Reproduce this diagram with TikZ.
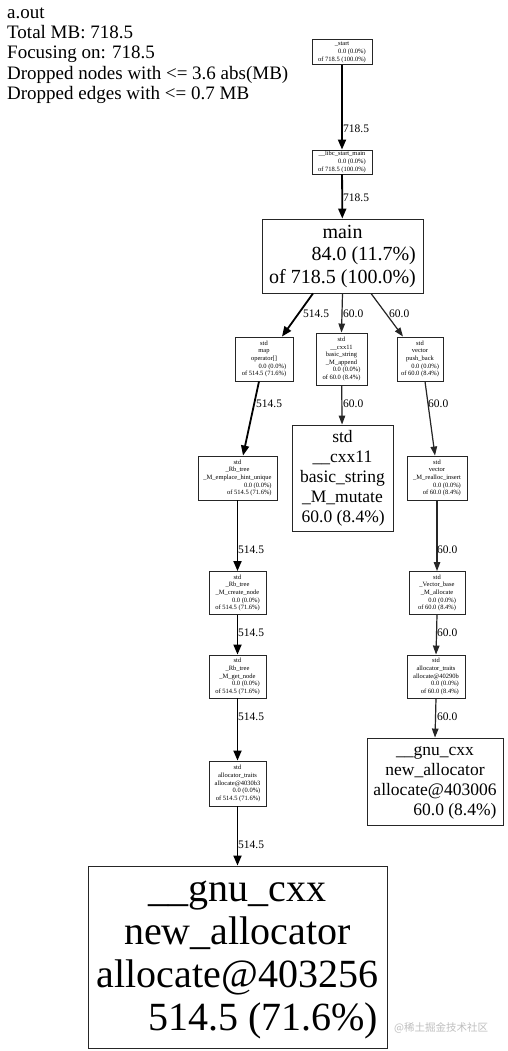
\documentclass[tikz,border=0pt]{standalone}
\usepackage{fontspec}
\setmainfont{Liberation Serif}
\newfontfamily\cjkfont{Noto Sans CJK SC}
\usetikzlibrary{arrows.meta}
\newcommand\mycc[1]{\multicolumn{1}{@{}c@{}}{#1}}
\newcommand\mylines[1]{\begin{tabular}{@{}r@{}}#1\end{tabular}}
\begin{document}
\begin{tikzpicture}[x=1pt,y=-1pt,
  box/.style={draw=black!85, line width=0.9pt, inner sep=0pt},
  tiny/.style={box, font=\fontsize{6.5}{7.6}\selectfont},
  mid/.style={box, font=\fontsize{17.5}{20}\selectfont},
  hdr/.style={anchor=base west, inner sep=0pt, font=\fontsize{19}{20}\selectfont},
  elabel/.style={anchor=west, inner sep=0pt, font=\fontsize{11.5}{12}\selectfont},
  heavy/.style={line width=1.8pt, -{Triangle[length=10pt,width=8pt]}},
  light/.style={line width=1.2pt, draw=black!85, -{Triangle[length=9pt,width=6.5pt]}, fill=black!85}]
\useasboundingbox (0,0) rectangle (508,1051);
\fill[white] (0,0) rectangle (508,1051);

% header
\node[hdr] (h1) at (7,18.3) {a.out};
\node[hdr] (h2) at (7,38.6) {Total MB: 718.5};
\node[hdr] (h3) at (7,58.9) {Focusing on: 718.5};
\node[hdr] (h4) at (7,79.2) {Dropped nodes with <= 3.6 abs(MB)};
\node[hdr] (h5) at (7,99.5) {Dropped edges with <= 0.7 MB};

% nodes
\node[tiny, minimum width=60pt, minimum height=25pt] (start) at (342,52)
  {\mylines{\mycc{\_start}\\0.0 (0.0\%)\\of 718.5 (100.0\%)}};
\node[tiny, minimum width=60pt, minimum height=24pt] (libc) at (342,162)
  {\mylines{\mycc{\_\_libc\_start\_main}\\0.0 (0.0\%)\\of 718.5 (100.0\%)}};
\node[box, minimum width=161pt, minimum height=74pt, font=\fontsize{20}{22.5}\selectfont] (main) at (342.5,256)
  {\mylines{\mycc{main}\\84.0 (11.7\%)\\of 718.5 (100.0\%)}};
\node[tiny, minimum width=58pt, minimum height=44pt] (map) at (264,359)
  {\mylines{\mycc{std}\\\mycc{map}\\\mycc{operator[]}\\0.0 (0.0\%)\\of 514.5 (71.6\%)}};
\node[tiny, minimum width=51pt, minimum height=52pt] (append) at (341.5,359)
  {\mylines{\mycc{std}\\\mycc{\_\_cxx11}\\\mycc{basic\_string}\\\mycc{\_M\_append}\\0.0 (0.0\%)\\of 60.0 (8.4\%)}};
\node[tiny, minimum width=46pt, minimum height=44pt] (push) at (420,359)
  {\mylines{\mycc{std}\\\mycc{vector}\\\mycc{push\_back}\\0.0 (0.0\%)\\of 60.0 (8.4\%)}};
\node[mid, minimum width=101pt, minimum height=106pt] (mutate) at (342.5,478)
  {\mylines{\mycc{std}\\\mycc{\_\_cxx11}\\\mycc{basic\_string}\\\mycc{\_M\_mutate}\\60.0 (8.4\%)}};
\node[tiny, minimum width=79pt, minimum height=44pt] (emplace) at (237.5,478)
  {\mylines{\mycc{std}\\\mycc{\_Rb\_tree}\\\mycc{\_M\_emplace\_hint\_unique}\\0.0 (0.0\%)\\of 514.5 (71.6\%)}};
\node[tiny, minimum width=60pt, minimum height=44pt] (realloc) at (437,478)
  {\mylines{\mycc{std}\\\mycc{vector}\\\mycc{\_M\_realloc\_insert}\\0.0 (0.0\%)\\of 60.0 (8.4\%)}};
\node[tiny, minimum width=57pt, minimum height=43pt] (create) at (237.5,593)
  {\mylines{\mycc{std}\\\mycc{\_Rb\_tree}\\\mycc{\_M\_create\_node}\\0.0 (0.0\%)\\of 514.5 (71.6\%)}};
\node[tiny, minimum width=56pt, minimum height=43pt] (vbase) at (437,593)
  {\mylines{\mycc{std}\\\mycc{\_Vector\_base}\\\mycc{\_M\_allocate}\\0.0 (0.0\%)\\of 60.0 (8.4\%)}};
\node[tiny, minimum width=57pt, minimum height=43pt] (getn) at (237.5,676.5)
  {\mylines{\mycc{std}\\\mycc{\_Rb\_tree}\\\mycc{\_M\_get\_node}\\0.0 (0.0\%)\\of 514.5 (71.6\%)}};
\node[tiny, minimum width=58pt, minimum height=43pt] (atb) at (436,676.5)
  {\mylines{\mycc{std}\\\mycc{allocator\_traits}\\\mycc{allocate@40290b}\\0.0 (0.0\%)\\of 60.0 (8.4\%)}};
\node[tiny, minimum width=57pt, minimum height=45pt] (ata) at (237.5,783.5)
  {\mylines{\mycc{std}\\\mycc{allocator\_traits}\\\mycc{allocate@4030b3}\\0.0 (0.0\%)\\of 514.5 (71.6\%)}};
\node[mid, minimum width=136pt, minimum height=87pt] (nsmall) at (435,781.5)
  {\mylines{\mycc{\_\_gnu\_cxx}\\\mycc{new\_allocator}\\\mycc{allocate@403006}\\60.0 (8.4\%)}};
\node[box, minimum width=299pt, minimum height=182pt, font=\fontsize{40}{43}\selectfont] (nbig) at (237.5,957)
  {\mylines{\mycc{\_\_gnu\_cxx}\\\mycc{new\_allocator}\\\mycc{allocate@403256}\\514.5 (71.6\%)}};

% edges
\draw[heavy] (start) -- (libc);
\draw[heavy] (libc) -- (main);
\draw[heavy] ([xshift=-29.5pt]main.south) -- ([xshift=18pt]map.north);
\draw[light] (main.south) -- (append.north);
\draw[light] ([xshift=28.5pt]main.south) -- ([xshift=-17pt]push.north);
\draw[heavy] ([xshift=-5pt]map.south) -- ([xshift=5.5pt]emplace.north);
\draw[light] (append) -- (mutate);
\draw[light] ([xshift=5pt]push.south) -- ([xshift=-2pt]realloc.north);
\draw[heavy] (emplace) -- (create);
\draw[light] (realloc) -- (vbase);
\draw[heavy] (create) -- (getn);
\draw[light] (vbase.south) -- (atb.north);
\draw[heavy] (getn) -- (ata);
\draw[light] (atb.south) -- (nsmall.north);
\draw[heavy] (ata) -- (nbig);

% edge labels
\node[elabel] (l1) at (343,129) {718.5};
\node[elabel] (l2) at (343,198) {718.5};
\node[elabel] (l3) at (303,314) {514.5};
\node[elabel] (l4) at (343,314) {60.0};
\node[elabel] (l5) at (389,314) {60.0};
\node[elabel] (l6) at (256,404) {514.5};
\node[elabel] (l7) at (343,404) {60.0};
\node[elabel] (l8) at (428,404) {60.0};
\node[elabel] (l9) at (238,550) {514.5};
\node[elabel] (l10) at (437,550) {60.0};
\node[elabel] (l11) at (238,633) {514.5};
\node[elabel] (l12) at (437,633) {60.0};
\node[elabel] (l13) at (238,717) {514.5};
\node[elabel] (l14) at (437,717) {60.0};
\node[elabel] (l15) at (238,845) {514.5};

% watermark
\node[anchor=west, inner sep=0pt, text=black!25, font=\cjkfont\fontsize{10.5}{11}\selectfont] (wm) at (394,1028) {@稀土掘金技术社区};
\end{tikzpicture}
\end{document}
